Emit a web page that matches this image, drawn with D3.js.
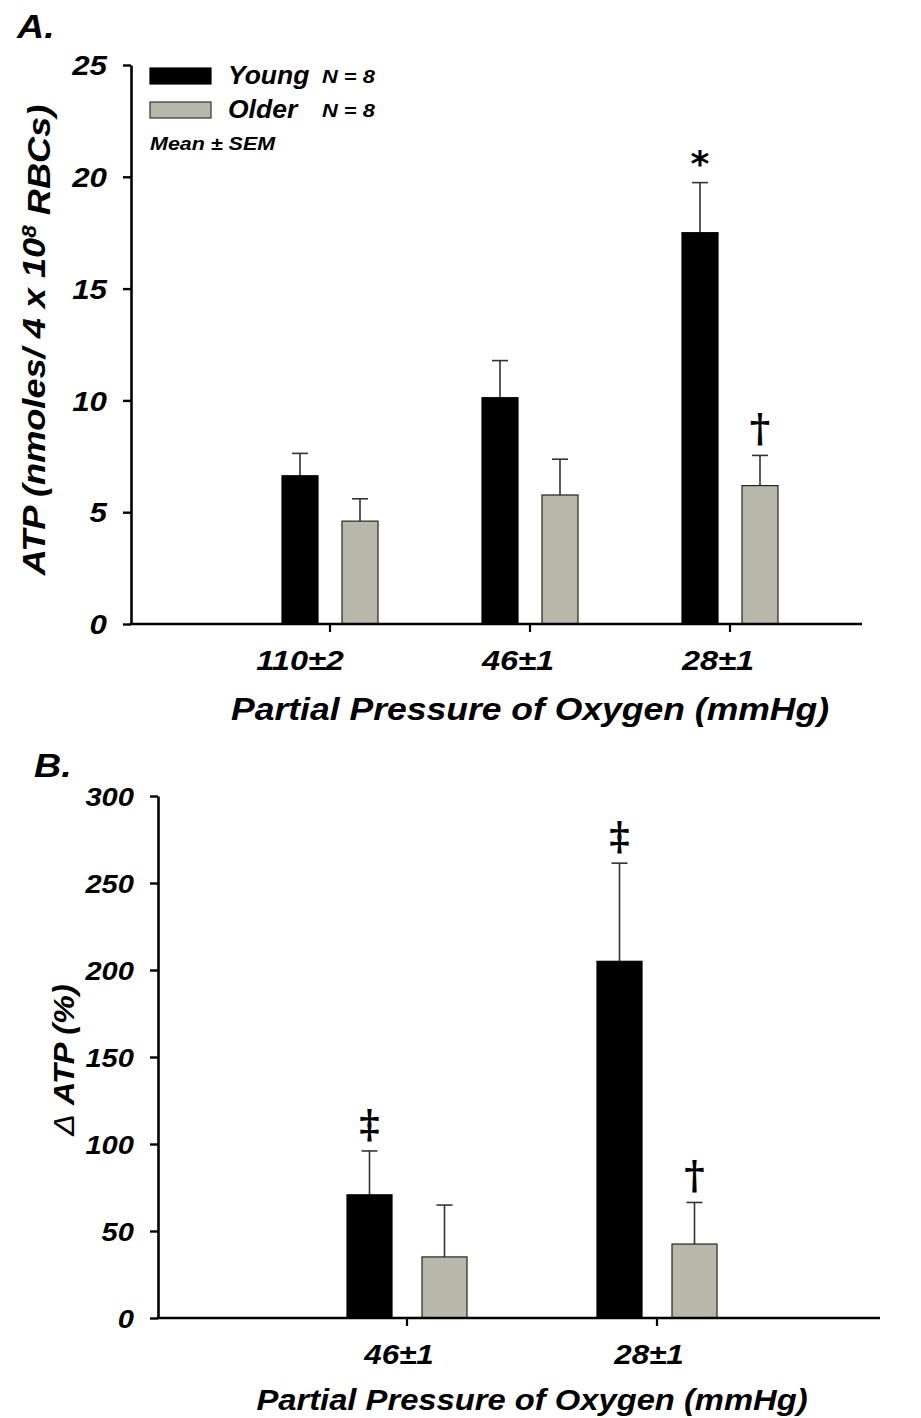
<!DOCTYPE html>
<html><head><meta charset="utf-8">
<script src="https://cdn.jsdelivr.net/npm/d3@7"></script>
<style>
body{margin:0;background:#fff;}
svg text{font-family:'Liberation Sans',Arial,sans-serif;font-weight:bold;font-style:italic;fill:#000;}
</style></head>
<body><svg id="c" width="921" height="1418"></svg>
<script>
// ---- data ----
const seriesNames = ["Young", "Older"];
const seriesN = ["N = 8", "N = 8"];
const categoriesA = ["110±2", "46±1", "28±1"];
const youngA = [6.63, 10.12, 17.5];
const olderA = [4.6, 5.77, 6.19];
const youngSemA = [1.0, 1.66, 2.24];
const olderSemA = [1.0, 1.6, 1.35];
const ticksA = [0, 5, 10, 15, 20, 25];
const markersA = [
  {cat: "28±1", series: "Young", sym: "*"},
  {cat: "28±1", series: "Older", sym: "†"}
];
const categoriesB = ["46±1", "28±1"];
const youngB = [70.8, 205];
const olderB = [35.1, 42.5];
const youngSemB = [25.2, 56.4];
const olderSemB = [29.8, 23.9];
const ticksB = [0, 50, 100, 150, 200, 250, 300];
const markersB = [
  {cat: "46±1", series: "Young", sym: "‡"},
  {cat: "28±1", series: "Young", sym: "‡"},
  {cat: "28±1", series: "Older", sym: "†"}
];
const colors = {Young: "#000000", Older: "#b8b8aa"};

const svg = d3.select("#c");

function stext(parent, x, y, size, sx, str, anchor) {
  return parent.append("text")
    .attr("transform", `translate(${x},${y}) scale(${sx},1)`)
    .attr("text-anchor", anchor || "start")
    .style("font-size", size + "px").text(str);
}

function panel(o) {
  const g = svg.append("g");
  const y = d3.scaleLinear().domain(o.yDomain).range([o.y0, o.y1]);
  const x = d3.scaleBand().domain(o.cats).range(o.xRange);
  const step = x.bandwidth();
  const xs = d3.scaleBand().domain(seriesNames).range([0.26 * step, 0.74 * step]).paddingInner(0.4);
  const rows = [];
  o.cats.forEach((c, i) => {
    rows.push({cat: c, series: "Young", v: o.young[i], sem: o.youngSem[i]});
    rows.push({cat: c, series: "Older", v: o.older[i], sem: o.olderSem[i]});
  });
  // error bars (upper only)
  const eb = g.append("g").attr("stroke", "#333").attr("stroke-width", 1.6);
  rows.forEach(d => {
    const cx = x(d.cat) + xs(d.series) + xs.bandwidth() / 2;
    eb.append("line").attr("x1", cx).attr("x2", cx).attr("y1", y(d.v)).attr("y2", y(d.v + d.sem));
    eb.append("line").attr("x1", cx - 8).attr("x2", cx + 8).attr("y1", y(d.v + d.sem)).attr("y2", y(d.v + d.sem));
  });
  // bars
  g.append("g").selectAll("rect").data(rows).join("rect")
    .attr("x", d => x(d.cat) + xs(d.series))
    .attr("width", xs.bandwidth())
    .attr("y", d => y(d.v))
    .attr("height", d => y(0) - y(d.v))
    .attr("fill", d => colors[d.series])
    .attr("stroke", d => d.series === "Older" ? "#222" : "#000")
    .attr("stroke-width", 1.2);
  // markers
  o.markers.forEach(m => {
    const r = rows.find(d => d.cat === m.cat && d.series === m.series);
    const cx = x(r.cat) + xs(r.series) + xs.bandwidth() / 2;
    const top = y(r.v + r.sem);
    if (m.sym === "*") {
      g.append("text").attr("x", cx).attr("y", top - 7).attr("text-anchor", "middle")
        .style("font-family", "'DejaVu Sans',sans-serif").style("font-style", "normal").style("font-weight", "bold")
        .style("font-size", "36px").text(m.sym);
    } else {
      g.append("text").attr("x", cx).attr("y", top - 13).attr("text-anchor", "middle")
        .style("font-family", "'DejaVu Serif',serif").style("font-style", "normal").style("font-weight", "bold")
        .style("font-size", "39px").text(m.sym);
    }
  });
  // y axis
  const ya = g.append("g").attr("transform", `translate(${o.axisX},0)`)
    .call(d3.axisLeft(y).tickValues(o.ticks).tickSize(8).tickSizeOuter(0).tickPadding(14));
  ya.select(".domain").attr("stroke-width", 2.6).attr("stroke", "#000");
  ya.selectAll(".tick line").attr("stroke-width", 2.4).attr("stroke", "#000");
  ya.selectAll(".tick text").style("font-size", o.yTickFont + "px").attr("dy", "0.36em")
    .attr("x", 0).attr("transform", `translate(-24,0) scale(${o.tsx},1)`);
  // x axis
  const xa = g.append("g").attr("transform", `translate(0,${o.y0})`)
    .call(d3.axisBottom(x).tickSize(8).tickSizeOuter(0).tickPadding(20));
  xa.select(".domain").remove();
  xa.selectAll(".tick line").attr("stroke-width", 2.2).attr("stroke", "#000");
  xa.selectAll(".tick text").style("font-size", o.xTickFont + "px").attr("dy", "0.71em")
    .attr("y", 0).attr("transform", (d, i) => `translate(${o.xTickShift + (i === 0 && o.cats.length === 3 ? -18 : 0)},26) scale(${o.tsx},1)`);
  g.append("line").attr("x1", o.axisX - 1.3).attr("x2", o.axisEnd).attr("y1", o.y0).attr("y2", o.y0)
    .attr("stroke", "#000").attr("stroke-width", 2.6);
  // x title
  stext(g, o.xTitleX, o.xTitleY, o.xTitleFont, 1.11, "Partial Pressure of Oxygen (mmHg)", "middle");
  // panel letter
  stext(g, o.letterX, o.letterY, 33, 1.14, o.letter);
  return {g, x, y};
}

const A = panel({
  cats: categoriesA, young: youngA, older: olderA, youngSem: youngSemA, olderSem: olderSemA,
  yDomain: [0, 25], y0: 624, y1: 65, xRange: [230, 830], axisX: 131, axisEnd: 862,
  ticks: ticksA, markers: markersA, yTickFont: 27, xTickFont: 28, tsx: 1.16, xTickShift: -12,
  xTitleX: 530, xTitleY: 720, xTitleFont: 32,
  letter: "A.", letterX: 17, letterY: 38
});
const B = panel({
  cats: categoriesB, young: youngB, older: olderB, youngSem: youngSemB, olderSem: olderSemB,
  yDomain: [0, 300], y0: 1318, y1: 796, xRange: [282, 782], axisX: 158, axisEnd: 880,
  ticks: ticksB, markers: markersB, yTickFont: 26, xTickFont: 28, tsx: 1.12, xTickShift: -8,
  xTitleX: 532, xTitleY: 1410, xTitleFont: 29.5,
  letter: "B.", letterX: 34, letterY: 777
});

// y titles
const ytA = svg.append("text").attr("transform", "translate(45,340) rotate(-90) scale(1.13,1)")
  .attr("text-anchor", "middle").style("font-size", "32px");
ytA.append("tspan").text("ATP (nmoles/ 4 x 10");
ytA.append("tspan").attr("dy", "-0.45em").style("font-size", "20px").text("8");
ytA.append("tspan").attr("dy", "0.45em").text(" RBCs)");

const ytB = svg.append("text").attr("transform", "translate(74,1060) rotate(-90) scale(1.12,1)")
  .attr("text-anchor", "middle").style("font-size", "29px");
ytB.append("tspan").style("font-weight", "normal").text("Δ");
ytB.append("tspan").text(" ATP (%)");

// legend
const leg = svg.append("g");
seriesNames.forEach((s, i) => {
  const yy = 68 + i * 34;
  leg.append("rect").attr("x", 150).attr("y", yy).attr("width", 61).attr("height", 16)
    .attr("fill", colors[s]).attr("stroke", s === "Older" ? "#333" : "#000").attr("stroke-width", 1.2);
  stext(leg, 228, yy + 16, 25, 1.06, s);
  stext(leg, 322, yy + 15, 19, 1.15, seriesN[i]);
});
stext(leg, 150, 150, 19, 1.13, "Mean ± SEM");
</script></body></html>
